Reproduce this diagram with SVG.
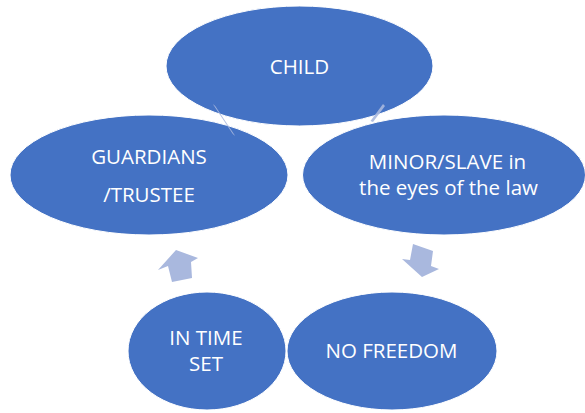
<svg xmlns="http://www.w3.org/2000/svg" width="585" height="413" viewBox="0 0 585 413">
<style>
.node{fill:#4472C4;stroke:#FFFFFF;stroke-width:1}
.lbl{font-family:"Open Sans","Liberation Sans",sans-serif;font-size:20.5px;fill:#FFFFFF;text-anchor:middle}
.arr{fill:#A9B8DE}
</style>
<rect width="585" height="413" fill="#FFFFFF"/>
<g id="node-child">
<ellipse class="node" cx="299.5" cy="66" rx="133.5" ry="60"/>
<text class="lbl" x="299.5" y="73.5">CHILD</text>
</g>
<g id="node-guardians">
<ellipse class="node" cx="149" cy="175" rx="139" ry="60"/>
<text class="lbl" x="149" y="164">GUARDIANS</text>
<text class="lbl" x="149" y="202">/TRUSTEE</text>
</g>
<g id="node-minor">
<ellipse class="node" cx="444" cy="175" rx="141.5" ry="60"/>
<text class="lbl" x="447.5" y="169">MINOR/SLAVE in</text>
<text class="lbl" x="448.5" y="195">the eyes of the law</text>
</g>
<g id="node-intime">
<ellipse class="node" cx="207" cy="351" rx="79" ry="59"/>
<text class="lbl" x="206" y="345">IN TIME</text>
<text class="lbl" x="206" y="371">SET</text>
</g>
<g id="node-nofreedom">
<ellipse class="node" cx="392" cy="351" rx="105" ry="59"/>
<text class="lbl" x="391.5" y="358">NO FREEDOM</text>
</g>
<g id="connectors">
<polygon class="arr" points="212.8,104.1 215.2,105.9 235.2,135.9 232.8,134.1" opacity="0.9"/>
<polygon class="arr" points="383,104 385,106 373,122 370.5,121" opacity="0.9"/>
<polygon class="arr" points="413,244 433,251 431,266 439,269 422,277 402,259 410,260"/>
<polygon class="arr" points="176,250 198,258 191,262 192,278 172,282 168,266 158,270"/>
</g>
</svg>
